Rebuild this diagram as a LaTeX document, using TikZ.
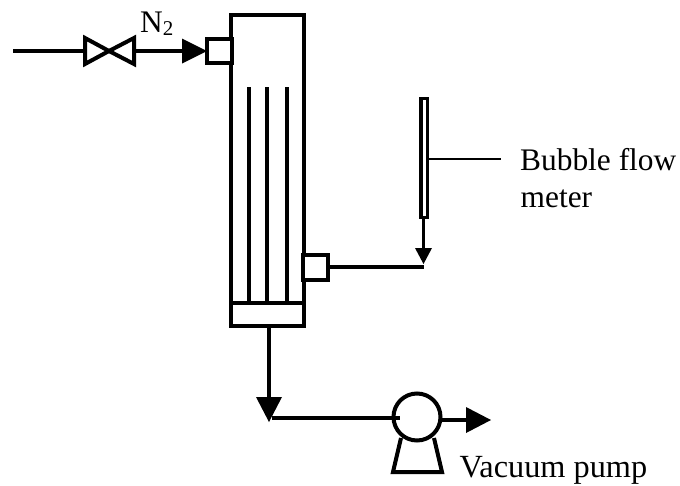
\documentclass[tikz,border=0pt]{standalone}
\usepackage{fontspec}
\setmainfont{Liberation Serif}
\tikzset{
 pipe/.style={line width=3.6pt,line cap=butt},
 box/.style={draw,line width=4pt,rectangle,inner sep=0pt,outer sep=0pt,fill=white},
 tip/.style={fill=black,draw=none},
 lab/.style={font=\fontsize{31.4}{36}\selectfont,anchor=base west,inner sep=0pt}
}
\begin{document}
\begin{tikzpicture}[x=1pt,y=-1pt,line join=miter]
\useasboundingbox (0,0) rectangle (680,485);
% column
\node[box,minimum width=73pt,minimum height=311pt,anchor=north west] (col) at (231,15) {};
\coordinate (divL) at (231,303);
\coordinate (divR) at (304,303);
\draw[pipe] (divL) -- (divR);
\coordinate (t1a) at (249,87); \coordinate (t1b) at (249,303);
\coordinate (t2a) at (267,87); \coordinate (t2b) at (267,303);
\coordinate (t3a) at (287,87); \coordinate (t3b) at (287,303);
\draw[pipe] (t1a)--(t1b); \draw[pipe] (t2a)--(t2b); \draw[pipe] (t3a)--(t3b);
% top nozzle and inlet
\node[box,minimum width=25pt,minimum height=24pt,anchor=north west] (noz1) at (207,39) {};
\coordinate (in) at (13,51);
\coordinate (vc) at (109,51);
\coordinate (vl) at (85,51);
\coordinate (vr) at (134,51);
\draw[pipe] (in) -- (vl);
\draw[line width=4pt] (vc) -- (85,38) -- (85,64) -- cycle;
\draw[line width=4pt] (vc) -- (134,38) -- (134,64) -- cycle;
\coordinate (a1) at (183,51);
\draw[pipe] (vr) -- (a1);
\fill[tip] (182,38.5) -- (noz1.west) -- (182,63.5) -- cycle;
\node[lab] (n2) at (140,32) {N\raisebox{-0.1em}{\fontsize{21}{24}\selectfont 2}};
% lower nozzle
\node[box,minimum width=25pt,minimum height=25pt,anchor=north west] (noz2) at (303,255) {};
\coordinate (j) at (424,267);
\draw[pipe] (noz2.east |- j) -- (j);
% flow meter
\node[draw,line width=3.4pt,fill=white,minimum width=6.4pt,minimum height=119pt,inner sep=0pt,outer sep=0pt,anchor=north west] (fm) at (421,98.5) {};
\coordinate (upt) at (423.5,217);
\coordinate (upb) at (423.5,249);
\draw[pipe] (upt) -- (upb);
\fill[tip] (415,248) -- (432,248) -- (423.5,264) -- cycle;
\coordinate (lead) at (500.5,159);
\draw[line width=1.4pt] (fm.east |- lead) -- (lead);
\node[lab] (bf1) at (520,170.5) {Bubble flow};
\node[lab] (bf2) at (520.5,207.5) {meter};
% outlet
\coordinate (o1) at (269,398);
\draw[pipe] (col.south -| o1) -- (o1);
\fill[tip] (256,397) -- (282,397) -- (269,422) -- cycle;
\coordinate (o2) at (272,418);
\node[draw,circle,line width=4pt,fill=white,minimum size=47pt,inner sep=0pt,outer sep=0pt] (pump) at (417,417) {};
\draw[pipe] (o2) -- (pump.west |- o2) -- ++(6,0);
\draw[line width=4pt] (401,438) -- (393,472) -- (442,472) -- (434,438);
\coordinate (o3) at (467,420);
\draw[pipe] (pump.east |- o3) -- (o3);
\fill[tip] (466,407) -- (491,420) -- (466,433) -- cycle;
\node[lab,font=\fontsize{32.3}{36}\selectfont] (vp) at (459.5,477) {Vacuum pump};
\end{tikzpicture}
\end{document}
